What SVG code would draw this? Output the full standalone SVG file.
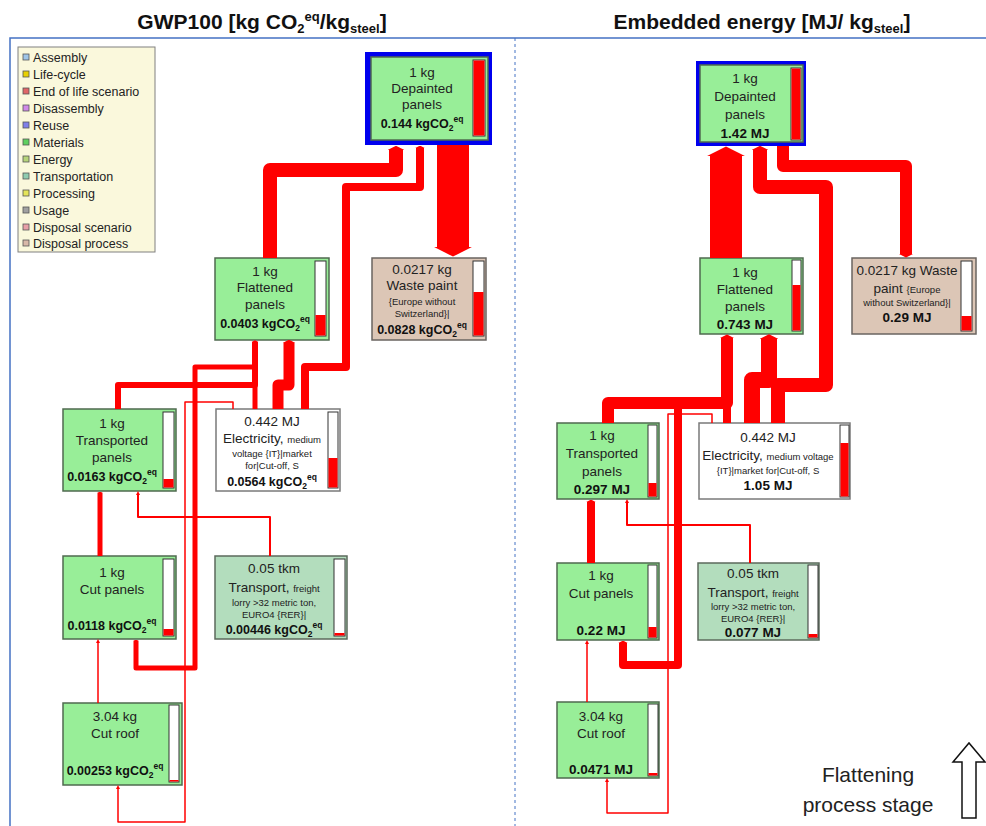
<svg xmlns="http://www.w3.org/2000/svg" width="986" height="826" viewBox="0 0 986 826">
<defs>
<style>
text{font-family:"Liberation Sans",Arial,sans-serif;fill:#222}
.ttl{font-size:21px;font-weight:bold;text-anchor:middle;fill:#111}
.t{font-size:13.5px;text-anchor:middle}
.b{font-weight:bold;fill:#111}
.k{font-size:12.5px}
.s{font-size:9.5px}
.lg{font-size:12.5px;fill:#222}
.mat{fill:#98EE98;stroke:#4F6A4F;stroke-width:1.5}
.tra{fill:#B3DDBD;stroke:#5C6A5C;stroke-width:1.5}
.dis{fill:#DCC6B6;stroke:#6A6460;stroke-width:1.5}
.ene{fill:#FFFFFF;stroke:#7A7A7A;stroke-width:1.5}
.bar{fill:#FFFFFF;stroke:#333;stroke-width:1}
.red{fill:#FF0000}
.blue{fill:#0000EE}
.c{fill:none;stroke:#FF0000;stroke-linejoin:round}
.sq{stroke:#555;stroke-width:0.8}
</style>
<marker id="ah" viewBox="0 0 10 10" refX="0" refY="5" markerUnits="strokeWidth" markerWidth="0.3" markerHeight="1.18" preserveAspectRatio="none" orient="auto"><path d="M0,0 L10,5 L0,10 z" fill="#FF0000"/></marker>
<marker id="ahs" viewBox="0 0 10 10" refX="0" refY="5" markerUnits="userSpaceOnUse" markerWidth="4" markerHeight="4" orient="auto"><path d="M0,0 L10,5 L0,10 z" fill="#FF0000"/></marker>
</defs>
<rect width="986" height="826" fill="#FFFFFF"/>

<!-- titles -->
<text class="ttl" x="262" y="29">GWP100 [kg CO<tspan font-size="13" dy="4">2</tspan><tspan font-size="13" dy="-12">eq</tspan><tspan dy="8">/kg</tspan><tspan font-size="13" dy="4">steel</tspan><tspan dy="-4">]</tspan></text>
<text class="ttl" x="762" y="29">Embedded energy [MJ/ kg<tspan font-size="13" dy="4">steel</tspan><tspan dy="-4">]</tspan></text>

<!-- frame -->
<path d="M10,826 V38 H986" fill="none" stroke="#4472C4" stroke-width="1.5"/>
<line x1="515" y1="38" x2="515" y2="826" stroke="#4472C4" stroke-width="1" stroke-dasharray="3,3"/>

<!-- legend -->
<g id="legend">
<rect x="18" y="47" width="137" height="205" fill="#FAF8DC" stroke="#808080" stroke-width="1"/>
<rect class="sq" x="23" y="54" width="6" height="6" fill="#9FC5E8"/><text class="lg" x="33" y="62">Assembly</text>
<rect class="sq" x="23" y="71" width="6" height="6" fill="#E8D000"/><text class="lg" x="33" y="79">Life-cycle</text>
<rect class="sq" x="23" y="88" width="6" height="6" fill="#E06666"/><text class="lg" x="33" y="96">End of life scenario</text>
<rect class="sq" x="23" y="105" width="6" height="6" fill="#D08AE8"/><text class="lg" x="33" y="113">Disassembly</text>
<rect class="sq" x="23" y="122" width="6" height="6" fill="#7F7FE8"/><text class="lg" x="33" y="130">Reuse</text>
<rect class="sq" x="23" y="139" width="6" height="6" fill="#5FD05F"/><text class="lg" x="33" y="147">Materials</text>
<rect class="sq" x="23" y="156" width="6" height="6" fill="#B6D47A"/><text class="lg" x="33" y="164">Energy</text>
<rect class="sq" x="23" y="173" width="6" height="6" fill="#8FCBB0"/><text class="lg" x="33" y="181">Transportation</text>
<rect class="sq" x="23" y="190" width="6" height="6" fill="#E5E55A"/><text class="lg" x="33" y="198">Processing</text>
<rect class="sq" x="23" y="207" width="6" height="6" fill="#A0A0A0"/><text class="lg" x="33" y="215">Usage</text>
<rect class="sq" x="23" y="224" width="6" height="6" fill="#E8A0A8"/><text class="lg" x="33" y="232">Disposal scenario</text>
<rect class="sq" x="23" y="240" width="6" height="6" fill="#D8B8A8"/><text class="lg" x="33" y="248">Disposal process</text>
</g>

<!-- LEFT nodes -->
<g id="L-depainted">
<rect class="blue" x="365" y="52" width="127" height="93"/>
<rect class="mat" x="371" y="57" width="117" height="83"/>
<rect class="bar" x="473" y="60" width="12" height="76"/>
<rect class="red" x="473.5" y="60.5" width="11" height="75"/>
<text class="t" x="422" y="77">1 kg</text>
<text class="t" x="422" y="93">Depainted</text>
<text class="t" x="422" y="109">panels</text>
<text class="t b k" x="422" y="128">0.144 kgCO<tspan font-size="8.5" dy="3">2</tspan><tspan font-size="8.5" dy="-9">eq</tspan></text>
</g>
<g id="L-flattened">
<rect class="mat" x="215" y="258" width="114" height="82"/>
<rect class="bar" x="315" y="261" width="11" height="75"/>
<rect class="red" x="315.5" y="315" width="10" height="20.5"/>
<text class="t" x="265" y="276">1 kg</text>
<text class="t" x="265" y="292">Flattened</text>
<text class="t" x="265" y="309">panels</text>
<text class="t b k" x="265" y="328">0.0403 kgCO<tspan font-size="8.5" dy="3">2</tspan><tspan font-size="8.5" dy="-9">eq</tspan></text>
</g>
<g id="L-wastepaint">
<rect class="dis" x="372" y="258" width="114" height="82"/>
<rect class="bar" x="473" y="261" width="11" height="75"/>
<rect class="red" x="473.5" y="292" width="10" height="43.5"/>
<text class="t" x="422" y="274">0.0217 kg</text>
<text class="t" x="422" y="290">Waste paint</text>
<text class="t s" x="422" y="305">{Europe without</text>
<text class="t s" x="422" y="317">Switzerland}|</text>
<text class="t b k" x="422" y="334">0.0828 kgCO<tspan font-size="8.5" dy="3">2</tspan><tspan font-size="8.5" dy="-9">eq</tspan></text>
</g>
<g id="L-transported">
<rect class="mat" x="63" y="409" width="113" height="82"/>
<rect class="bar" x="163" y="412" width="11" height="76"/>
<rect class="red" x="163.5" y="479" width="10" height="8.5"/>
<text class="t" x="112" y="428">1 kg</text>
<text class="t" x="112" y="445">Transported</text>
<text class="t" x="112" y="462">panels</text>
<text class="t b k" x="112" y="481">0.0163 kgCO<tspan font-size="8.5" dy="3">2</tspan><tspan font-size="8.5" dy="-9">eq</tspan></text>
</g>
<g id="L-electricity">
<rect class="ene" x="216" y="409" width="124" height="82"/>
<rect class="bar" x="328" y="412" width="10" height="76"/>
<rect class="red" x="328.5" y="458" width="9" height="29.5"/>
<text class="t" x="272" y="426">0.442 MJ</text>
<text class="t" x="272" y="443">Electricity, <tspan class="s">medium</tspan></text>
<text class="t s" x="272" y="457">voltage {IT}|market</text>
<text class="t s" x="272" y="469">for|Cut-off, S</text>
<text class="t b k" x="272" y="486">0.0564 kgCO<tspan font-size="8.5" dy="3">2</tspan><tspan font-size="8.5" dy="-9">eq</tspan></text>
</g>
<g id="L-cutpanels">
<rect class="mat" x="63" y="556" width="113" height="83"/>
<rect class="bar" x="163" y="559" width="11" height="77"/>
<rect class="red" x="163.5" y="629" width="10" height="6.5"/>
<text class="t" x="112" y="577">1 kg</text>
<text class="t" x="112" y="594">Cut panels</text>
<text class="t b k" x="112" y="630">0.0118 kgCO<tspan font-size="8.5" dy="3">2</tspan><tspan font-size="8.5" dy="-9">eq</tspan></text>
</g>
<g id="L-transport">
<rect class="tra" x="215" y="556" width="132" height="83"/>
<rect class="bar" x="334" y="559" width="11" height="77"/>
<rect class="red" x="334.5" y="633" width="10" height="2.5"/>
<text class="t" x="274" y="573">0.05 tkm</text>
<text class="t" x="274" y="592">Transport, <tspan class="s">freight</tspan></text>
<text class="t s" x="274" y="606">lorry &gt;32 metric ton,</text>
<text class="t s" x="274" y="618">EURO4 {RER}|</text>
<text class="t b k" x="274" y="634">0.00446 kgCO<tspan font-size="8.5" dy="3">2</tspan><tspan font-size="8.5" dy="-9">eq</tspan></text>
</g>
<g id="L-cutroof">
<rect class="mat" x="63" y="703" width="119" height="82"/>
<rect class="bar" x="169" y="705" width="10" height="77"/>
<rect class="red" x="169.5" y="780" width="9" height="1.5"/>
<text class="t" x="115" y="721">3.04 kg</text>
<text class="t" x="115" y="738">Cut roof</text>
<text class="t b k" x="115" y="775">0.00253 kgCO<tspan font-size="8.5" dy="3">2</tspan><tspan font-size="8.5" dy="-9">eq</tspan></text>
</g>

<!-- RIGHT nodes -->
<g id="R-depainted">
<rect class="blue" x="696" y="61" width="110" height="85"/>
<rect class="mat" x="700" y="65" width="103" height="77"/>
<rect class="bar" x="791" y="68" width="10" height="72"/>
<rect class="red" x="791.5" y="68.5" width="9" height="71"/>
<text class="t" x="745" y="83">1 kg</text>
<text class="t" x="745" y="101">Depainted</text>
<text class="t" x="745" y="119">panels</text>
<text class="t b" x="745" y="138">1.42 MJ</text>
</g>
<g id="R-flattened">
<rect class="mat" x="700" y="258" width="103" height="76"/>
<rect class="bar" x="792" y="260" width="9" height="71"/>
<rect class="red" x="792.5" y="285" width="8" height="45.5"/>
<text class="t" x="745" y="277">1 kg</text>
<text class="t" x="745" y="294">Flattened</text>
<text class="t" x="745" y="311">panels</text>
<text class="t b" x="745" y="329">0.743 MJ</text>
</g>
<g id="R-wastepaint">
<rect class="dis" x="852" y="258" width="124" height="76"/>
<rect class="bar" x="961" y="261" width="11" height="70"/>
<rect class="red" x="961.5" y="316" width="10" height="14.5"/>
<text class="t" x="907" y="275">0.0217 kg Waste</text>
<text class="t" x="907" y="293">paint <tspan class="s">{Europe</tspan></text>
<text class="t s" x="907" y="306">without Switzerland}|</text>
<text class="t b" x="907" y="322">0.29 MJ</text>
</g>
<g id="R-transported">
<rect class="mat" x="557" y="423" width="102" height="76"/>
<rect class="bar" x="648" y="425" width="9" height="72"/>
<rect class="red" x="648.5" y="483" width="8" height="13.5"/>
<text class="t" x="602" y="440">1 kg</text>
<text class="t" x="602" y="458">Transported</text>
<text class="t" x="602" y="476">panels</text>
<text class="t b" x="602" y="494">0.297 MJ</text>
</g>
<g id="R-electricity">
<rect class="ene" x="699" y="423" width="151" height="76"/>
<rect class="bar" x="840" y="425" width="9" height="72"/>
<rect class="red" x="840.5" y="443" width="8" height="53.5"/>
<text class="t" x="768" y="442">0.442 MJ</text>
<text class="t" x="768" y="460">Electricity, <tspan class="s">medium voltage</tspan></text>
<text class="t s" x="768" y="474">{IT}|market for|Cut-off, S</text>
<text class="t b" x="768" y="490">1.05 MJ</text>
</g>
<g id="R-cutpanels">
<rect class="mat" x="557" y="563" width="102" height="77"/>
<rect class="bar" x="648" y="565" width="9" height="73"/>
<rect class="red" x="648.5" y="627" width="8" height="10.5"/>
<text class="t" x="601" y="580">1 kg</text>
<text class="t" x="601" y="598">Cut panels</text>
<text class="t b" x="601" y="635">0.22 MJ</text>
</g>
<g id="R-transport">
<rect class="tra" x="698" y="563" width="121" height="77"/>
<rect class="bar" x="808" y="565" width="10" height="73"/>
<rect class="red" x="808.5" y="634" width="9" height="3.5"/>
<text class="t" x="753" y="578">0.05 tkm</text>
<text class="t" x="753" y="597">Transport, <tspan class="s">freight</tspan></text>
<text class="t s" x="753" y="610">lorry &gt;32 metric ton,</text>
<text class="t s" x="753" y="622">EURO4 {RER}|</text>
<text class="t b" x="753" y="637">0.077 MJ</text>
</g>
<g id="R-cutroof">
<rect class="mat" x="557" y="702" width="102" height="76"/>
<rect class="bar" x="648" y="704" width="10" height="72"/>
<rect class="red" x="648.5" y="773" width="9" height="2.5"/>
<text class="t" x="601" y="721">3.04 kg</text>
<text class="t" x="601" y="738">Cut roof</text>
<text class="t b" x="601" y="774">0.0471 MJ</text>
</g>

<!-- connectors -->
<g id="connectors">
<path class="c" stroke-width="14" marker-end="url(#ah)" d="M270,258 V170 H396 V150"/>
<path class="c" stroke-width="8" marker-end="url(#ah)" d="M305,409 V367 H346 V187 H420 V148"/>
<path class="c" stroke-width="32" marker-end="url(#ah)" d="M453,145 V247"/>
<path class="c" stroke-width="6" marker-end="url(#ah)" d="M118,409 V385 H255 V342"/>
<path class="c" stroke-width="11" marker-end="url(#ah)" d="M278,409 V385 H289 V343"/>
<path class="c" stroke-width="5" marker-end="url(#ah)" d="M255,409 V367 H195 V668 H136 V641"/>
<path class="c" stroke-width="1.5" marker-end="url(#ahs)" d="M233,409 V402 H185 V822 H118 V789"/>
<path class="c" stroke-width="2" marker-end="url(#ahs)" d="M270,556 V517 H138 V495"/>
<path class="c" stroke-width="5" marker-end="url(#ah)" d="M100,556 V493"/>
<path class="c" stroke-width="1.5" marker-end="url(#ahs)" d="M98,703 V643"/>

<path class="c" stroke-width="32" marker-end="url(#ah)" d="M726,258 V156"/>
<path class="c" stroke-width="14" marker-end="url(#ah)" d="M778,423 V385 H826 V187 H760 V150"/>
<path class="c" stroke-width="12" marker-end="url(#ah)" d="M783,146 V166 H906 V254"/>
<path class="c" stroke-width="12" marker-end="url(#ah)" d="M608,423 V403 H727 V338"/>
<path class="c" stroke-width="16" marker-end="url(#ah)" d="M752,423 V380 H769 V339"/>
<path class="c" stroke-width="8" marker-end="url(#ah)" d="M727,423 V403 H678 V665 H623 V643"/>
<path class="c" stroke-width="1.5" marker-end="url(#ahs)" d="M712,423 V414 H668 V813 H607 V782"/>
<path class="c" stroke-width="2" marker-end="url(#ahs)" d="M750,563 V525 H627 V503"/>
<path class="c" stroke-width="8" marker-end="url(#ah)" d="M591,563 V502"/>
<path class="c" stroke-width="1.5" marker-end="url(#ahs)" d="M587,702 V644"/>
</g>

<!-- stage label -->
<g id="stage">
<text x="868" y="782" font-size="21" text-anchor="middle" fill="#111">Flattening</text>
<text x="868" y="812" font-size="21" text-anchor="middle" fill="#111">process stage</text>
<polygon points="962,818 962,762 953,762 969,743 985,762 976,762 976,818" fill="#FFFFFF" stroke="#111" stroke-width="1.5"/>
</g>
</svg>
